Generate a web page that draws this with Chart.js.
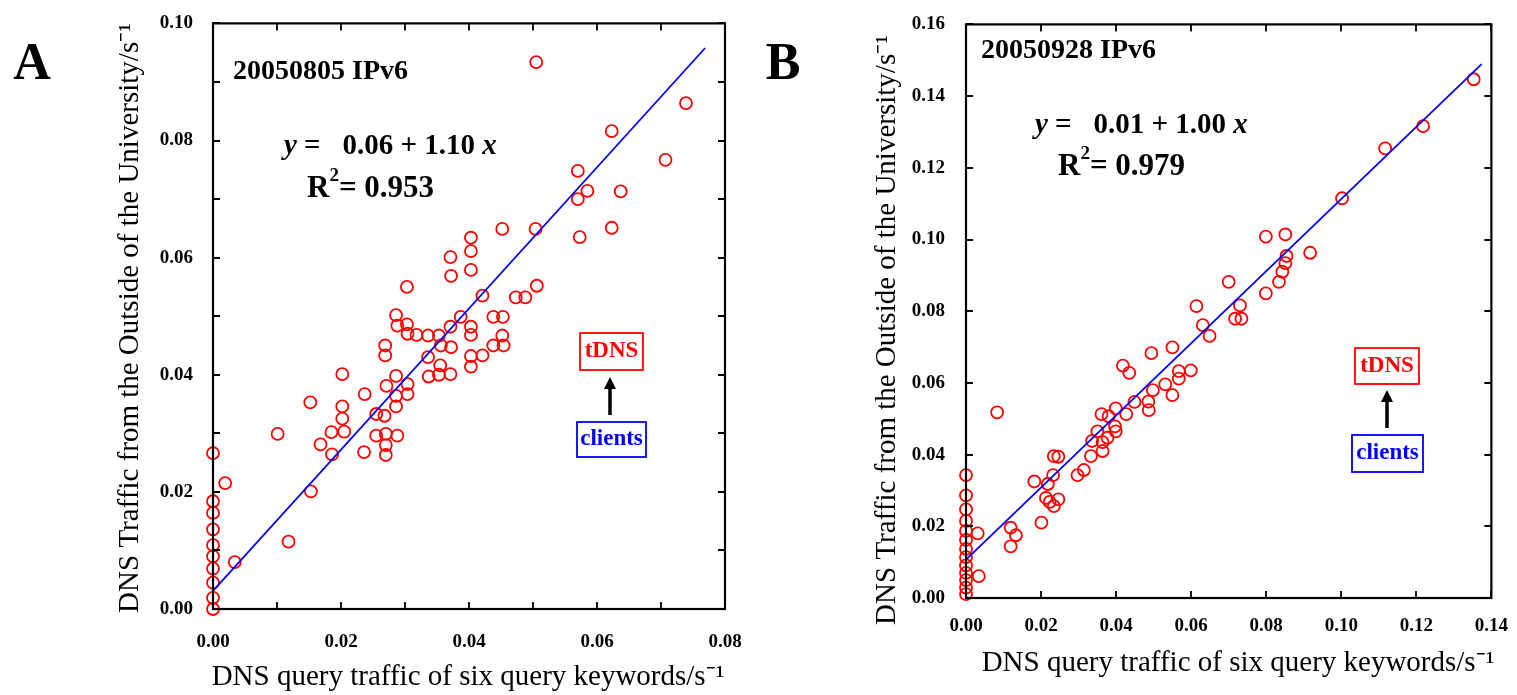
<!DOCTYPE html>
<html>
<head>
<meta charset="utf-8">
<script src="https://cdn.jsdelivr.net/npm/chart.js@4/dist/chart.umd.min.js"></script>
<style>
html,body{margin:0;padding:0;background:#fff;}
#wrap{position:relative;width:1517px;height:695px;overflow:hidden;background:#fff;}
canvas{position:absolute;top:0;}
</style>
</head>
<body>
<div id="wrap">
<canvas id="cA" width="760" height="695" style="left:0px;width:760px;height:695px"></canvas>
<canvas id="cB" width="757" height="695" style="left:760px;width:757px;height:695px"></canvas>
</div>
<script>
// ---------- Panel A data (20050805 IPv6) ----------
const aQueryX = [0.0505,0.0739,0.0623,0.0707,0.0570,0.0585,0.0570,0.0637,0.0623,0.0573,
  0.0504,0.0452,0.0403,0.0403,0.0403,0.0371,0.0372,0.0303,0.0506,0.0421,
  0.0473,0.0488,0.0286,0.0387,0.0438,0.0453,0.0288,0.0303,0.0304,0.0318,
  0.0336,0.0353,0.0371,0.0403,0.0403,0.0452,0.0438,0.0454,0.0356,0.0372,
  0.0269,0.0269,0.0336,0.0355,0.0403,0.0421,0.0403,0.0337,0.0353,0.0371,
  0.0286,0.0202,0.0271,0.0304,0.0304,0.0286,0.0237,0.0152,0.0202,0.0286,
  0.0255,0.0268,0.0202,0.0185,0.0205,0.0101,0.0255,0.0270,0.0288,0.0168,
  0.0270,0.0186,0.0236,0.0270,0.0000,0.0019,0.0153,0.0118,0.0034,
  0,0,0,0,0,0,0,0,0];
const aOutsideY = [0.0934,0.0864,0.0816,0.0767,0.0748,0.0714,0.0700,0.0713,0.0651,0.0635,
  0.0649,0.0649,0.0634,0.0611,0.0579,0.0601,0.0569,0.0550,0.0552,0.0535,
  0.0532,0.0532,0.0502,0.0499,0.0499,0.0499,0.0484,0.0486,0.0470,0.0468,
  0.0467,0.0467,0.0482,0.0482,0.0468,0.0467,0.0450,0.0450,0.0450,0.0447,
  0.0450,0.0433,0.0430,0.0416,0.0432,0.0433,0.0414,0.0397,0.0400,0.0401,
  0.0398,0.0401,0.0381,0.0384,0.0367,0.0364,0.0367,0.0353,0.0346,0.0346,
  0.0333,0.0330,0.0325,0.0302,0.0303,0.0299,0.0296,0.0299,0.0296,0.0281,
  0.0280,0.0264,0.0268,0.0263,0.0266,0.0215,0.0201,0.0115,0.0080,
  0.0184,0.0164,0.0136,0.0109,0.0090,0.0069,0.0045,0.0019,0.0000];
const aFitX = [0, 0.0769];
const aFitY = [0.0031, 0.0958];
const aTicksX = [0.00,0.02,0.04,0.06,0.08];
const aTicksY = [0.00,0.02,0.04,0.06,0.08,0.10];

// ---------- Panel B data (20050928 IPv6) ----------
const bQueryX = [0.1353,0.1218,0.1117,0.1002,0.0799,0.0851,0.0917,0.0854,0.0851,0.0843,
  0.0834,0.0700,0.0799,0.0614,0.0730,0.0717,0.0734,0.0631,0.0649,0.0550,
  0.0494,0.0418,0.0435,0.0599,0.0567,0.0567,0.0531,0.0498,0.0550,0.0449,
  0.0486,0.0487,0.0399,0.0427,0.0361,0.0083,0.0380,0.0397,0.0399,0.0350,
  0.0377,0.0336,0.0364,0.0364,0.0333,0.0234,0.0246,0.0314,0.0297,0.0232,
  0.0182,0.0218,0.0213,0.0246,0.0234,0.0223,0.0201,0.0119,0.0133,0.0119,
  0.0031,0.0034,
  0,0,0,0,0,0,0,0,0,0,0,0,0];
const bOutsideY = [0.1447,0.1316,0.1254,0.1115,0.1008,0.1014,0.0963,0.0954,0.0934,0.0910,
  0.0882,0.0882,0.0850,0.0814,0.0816,0.0779,0.0779,0.0761,0.0731,0.0699,
  0.0683,0.0648,0.0628,0.0635,0.0633,0.0612,0.0596,0.0580,0.0566,0.0547,
  0.0548,0.0524,0.0529,0.0513,0.0513,0.0518,0.0507,0.0479,0.0465,0.0465,
  0.0447,0.0438,0.0435,0.0410,0.0396,0.0396,0.0394,0.0357,0.0343,0.0343,
  0.0325,0.0318,0.0279,0.0275,0.0256,0.0268,0.0210,0.0196,0.0175,0.0144,
  0.0180,0.0061,
  0.0343,0.0286,0.0247,0.0215,0.0187,0.0162,0.0137,0.0114,0.0091,0.0070,0.0050,0.0029,0.0011];
const bFitX = [0, 0.1374];
const bFitY = [0.0107, 0.1489];
const bTicksX = [0.00,0.02,0.04,0.06,0.08,0.10,0.12,0.14];
const bTicksY = [0.00,0.02,0.04,0.06,0.08,0.10,0.12,0.14,0.16];

const SERIF = '"Liberation Serif","Times New Roman",serif';
const RED = '#ff0000', BLUE = '#0000ff';

function pts(xs, ys){ return xs.map((x,i)=>({x:x, y:ys[i]})); }

// frame with inward ticks on all four sides
const framePlugin = {
  id:'frame',
  afterDraw(chart){
    const {ctx, chartArea:a, scales:{x,y}} = chart;
    ctx.save();
    ctx.strokeStyle = '#000';
    ctx.lineWidth = 1.8;
    ctx.beginPath();
    x.ticks.forEach(t=>{
      const px = Math.round(x.getPixelForValue(t.value));
      ctx.moveTo(px, a.bottom); ctx.lineTo(px, a.bottom-7);
      ctx.moveTo(px, a.top); ctx.lineTo(px, a.top+7);
    });
    y.ticks.forEach(t=>{
      const py = Math.round(y.getPixelForValue(t.value));
      ctx.moveTo(a.left, py); ctx.lineTo(a.left+7, py);
      ctx.moveTo(a.right, py); ctx.lineTo(a.right-7, py);
    });
    ctx.stroke();
    ctx.lineWidth = 2.2;
    ctx.strokeRect(a.left, a.top, a.right-a.left, a.bottom-a.top);
    ctx.restore();
  }
};

function drawParts(ctx, x, y, parts){
  let cx = x;
  parts.forEach(p=>{
    ctx.font = p.font;
    ctx.fillText(p.t, cx, y + (p.dy||0));
    cx += ctx.measureText(p.t).width;
  });
}

function annotPlugin(cfg){
  return {
    id:'annot',
    afterDraw(chart){
      const ctx = chart.ctx;
      ctx.save();
      ctx.fillStyle = '#000';
      ctx.textBaseline = 'middle';
      ctx.textAlign = 'center';
      // panel letter
      ctx.font = 'bold 52px ' + SERIF;
      ctx.fillText(cfg.letter, cfg.letterX, cfg.letterY);
      // date title
      ctx.textAlign = 'left';
      ctx.font = 'bold 28px ' + SERIF;
      ctx.fillText(cfg.title, cfg.titleX, cfg.titleY);
      // equation
      drawParts(ctx, cfg.eqX, cfg.eqY, [
        {t:'y', font:'italic bold 29px ' + SERIF},
        {t:' =   ' + cfg.eq + ' ', font:'bold 29px ' + SERIF},
        {t:'x', font:'italic bold 29px ' + SERIF}
      ]);
      drawParts(ctx, cfg.rX, cfg.rY, [
        {t:'R', font:'bold 31px ' + SERIF},
        {t:'2', font:'bold 19px ' + SERIF, dy:-13},
        {t:'= ' + cfg.r2, font:'bold 31px ' + SERIF}
      ]);
      // tDNS / clients boxes
      ctx.lineWidth = 1.8;
      ctx.textAlign = 'center';
      ctx.font = 'bold 23px ' + SERIF;
      ctx.strokeStyle = RED; ctx.fillStyle = RED;
      ctx.strokeRect(cfg.tBox[0], cfg.tBox[1], cfg.tBox[2], cfg.tBox[3]);
      ctx.fillText('tDNS', cfg.tBox[0]+cfg.tBox[2]/2, cfg.tBox[1]+cfg.tBox[3]/2);
      ctx.strokeStyle = BLUE; ctx.fillStyle = BLUE;
      ctx.strokeRect(cfg.cBox[0], cfg.cBox[1], cfg.cBox[2], cfg.cBox[3]);
      ctx.fillText('clients', cfg.cBox[0]+cfg.cBox[2]/2, cfg.cBox[1]+cfg.cBox[3]/2);
      // arrow
      ctx.strokeStyle = '#000'; ctx.fillStyle = '#000';
      ctx.lineWidth = 3.5;
      ctx.beginPath();
      ctx.moveTo(cfg.arrow[0], cfg.arrow[1]);
      ctx.lineTo(cfg.arrow[0], cfg.arrow[2]+8);
      ctx.stroke();
      ctx.beginPath();
      ctx.moveTo(cfg.arrow[0], cfg.arrow[2]);
      ctx.lineTo(cfg.arrow[0]-6, cfg.arrow[2]+12);
      ctx.lineTo(cfg.arrow[0]+6, cfg.arrow[2]+12);
      ctx.closePath();
      ctx.fill();
      // axis titles
      ctx.fillStyle = '#000';
      ctx.font = '29px ' + SERIF;
      ctx.fillText('DNS query traffic of six query keywords/s\u207B\u00B9', cfg.xtX, cfg.xtY);
      ctx.save();
      ctx.translate(cfg.ytX, cfg.ytY);
      ctx.rotate(-Math.PI/2);
      ctx.fillText('DNS Traffic from the Outside of the University/s\u207B\u00B9', 0, 0);
      ctx.restore();
      ctx.restore();
    }
  };
}

function makeChart(id, o){
  const tickFont = {family: SERIF, weight:'bold', size:19};
  return new Chart(document.getElementById(id), {
    type:'scatter',
    data:{datasets:[
      {data: pts(o.px, o.py), pointStyle:'circle', pointRadius:6, pointHoverRadius:6,
       borderColor:RED, backgroundColor:'rgba(0,0,0,0)', borderWidth:1.8, clip:false, order:2},
      {data: pts(o.fx, o.fy), showLine:true, pointRadius:0, borderColor:BLUE,
       borderWidth:1.8, backgroundColor:BLUE, clip:false, order:1}
    ]},
    options:{
      responsive:false, animation:false, devicePixelRatio:1,
      layout:{padding:o.pad},
      plugins:{legend:{display:false}, tooltip:{enabled:false}},
      scales:{
        x:{type:'linear', min:o.xmin, max:o.xmax,
           grid:{display:false}, border:{display:false},
           ticks:{stepSize:o.xstep, autoSkip:false, maxRotation:0, color:'#000', font:tickFont, padding:o.xpad,
             callback:(v)=> o.xLabels.some(t=>Math.abs(t-v)<1e-9) ? v.toFixed(2) : ''},
           afterFit:(s)=>{ s.height = o.xh; }},
        y:{type:'linear', min:o.ymin, max:o.ymax,
           grid:{display:false}, border:{display:false},
           ticks:{stepSize:o.ystep, autoSkip:false, color:'#000', font:tickFont, padding:o.ypad,
             callback:(v)=> o.yLabels.some(t=>Math.abs(t-v)<1e-9) ? v.toFixed(2) : ''},
           afterFit:(s)=>{ s.width = o.yw; }}
      }
    },
    plugins:[framePlugin, annotPlugin(o.annot)]
  });
}

// Panel A: plot area 213..725 x 21..609
makeChart('cA', {
  px:aQueryX, py:aOutsideY, fx:aFitX, fy:aFitY,
  xmin:0, xmax:0.08, xstep:0.01, ymin:0, ymax:0.10, ystep:0.01,
  xLabels:aTicksX, yLabels:aTicksY,
  pad:{left:0, right:35, top:21, bottom:0}, xh:86, yw:213, xpad:14, ypad:12,
  annot:{letter:'A', letterX:32, letterY:66, title:'20050805 IPv6', titleX:233, titleY:72,
    eq:'0.06 + 1.10', eqX:284, eqY:147, r2:'0.953', rX:307, rY:189,
    tBox:[580,333,63,37], cBox:[577,422,69,35], arrow:[610,415,377],
    xtX:468, xtY:677, ytX:130, ytY:318}
});

// Panel B: plot area 966..1497 x 17..598 (canvas offset 760)
makeChart('cB', {
  px:bQueryX, py:bOutsideY, fx:bFitX, fy:bFitY,
  xmin:0, xmax:0.14, xstep:0.02, ymin:0, ymax:0.16, ystep:0.02,
  xLabels:bTicksX, yLabels:bTicksY,
  pad:{left:0, right:20, top:17, bottom:0}, xh:97, yw:206, xpad:9, ypad:13,
  annot:{letter:'B', letterX:23, letterY:66, title:'20050928 IPv6', titleX:221, titleY:51,
    eq:'0.01 + 1.00', eqX:275, eqY:126, r2:'0.979', rX:298, rY:167,
    tBox:[595,348,64,36], cBox:[592,435,71,37], arrow:[627,428,390],
    xtX:478, xtY:663, ytX:127, ytY:330}
});
</script>
</body>
</html>
